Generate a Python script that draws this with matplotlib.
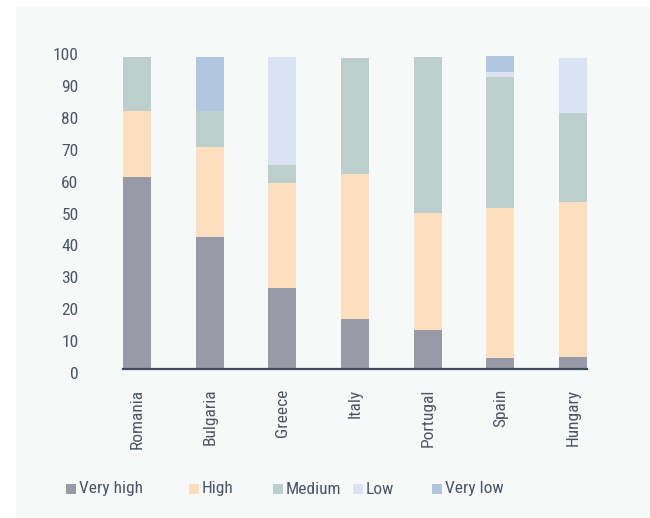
import matplotlib
matplotlib.use("Agg")
import matplotlib.pyplot as plt
import matplotlib.transforms as mtransforms
from matplotlib import font_manager
from matplotlib.patches import Rectangle
import numpy as np

countries = ["Romania", "Bulgaria", "Greece", "Italy", "Portugal", "Spain", "Hungary"]
very_high = [60.2, 41.4, 25.4, 15.7, 12.2, 3.4, 3.8]
high = [20.7, 28.2, 32.9, 45.4, 36.7, 47.1, 48.6]
medium = [16.9, 11.3, 5.6, 36.4, 48.9, 41.0, 27.9]
low = [0.0, 0.0, 33.9, 0.0, 0.0, 1.6, 17.2]
very_low = [0.0, 16.9, 0.0, 0.0, 0.0, 5.0, 0.0]
series_names = ["Very high", "High", "Medium", "Low", "Very low"]
yticks = [0, 10, 20, 30, 40, 50, 60, 70, 80, 90, 100]

colors = ["#989ba7", "#fddfc0", "#bccfcc", "#d9e3f4", "#b0c6de"]
text_color = "#4a5567"
axis_color = "#3f4d5f"
panel_color = "#f7f9f9"

# pick a narrow font if one is installed
available = {(f.name, f.stretch) for f in font_manager.fontManager.ttflist}
names = {n for n, _ in available}
font_kw = {}
chosen = None
for cand in ["Roboto Condensed", "Liberation Sans Narrow", "Open Sans Condensed",
             "DejaVu Sans Condensed", "Noto Sans Condensed"]:
    if cand in names:
        chosen = cand
        break
if chosen is None:
    cond = [n for n, s in available if str(s) in ("condensed", "semi-condensed") and n in
            ("Roboto", "Noto Sans", "Open Sans", "DejaVu Sans", "Liberation Sans")]
    if cond:
        chosen = cond[0]
        font_kw["stretch"] = "condensed"
if chosen is None:
    chosen = "Roboto"
    size_scale = 0.93
else:
    size_scale = 1.0
plt.rcParams["font.family"] = [chosen, "DejaVu Sans"]
if "stretch" in font_kw:
    plt.rcParams["font.stretch"] = "condensed"
fs = 12.5 * size_scale

W, H, DPI = 650, 518, 100
fig = plt.figure(figsize=(W / DPI, H / DPI), dpi=DPI, facecolor="white")
fig.patches.append(Rectangle((16 / W, -0.05), 1.1, (H - 7) / H + 0.05,
                             transform=fig.transFigure, facecolor=panel_color,
                             edgecolor="none", zorder=-10))

left, right = 123 / W, 587 / W
bottom, top = (H - 369) / H, (H - 50) / H
ax = fig.add_axes([left, bottom, right - left, top - bottom])
ax.set_facecolor("none")

x = np.arange(len(countries))
width = 0.385
series = [very_high, high, medium, low, very_low]
base = np.zeros(len(countries))
for vals, c in zip(series, colors):
    ax.bar(x, vals, width=width, bottom=base, color=c, edgecolor="none", zorder=2)
    base = base + np.array(vals)

ax.set_xlim(-width / 2, len(countries) - 1 + width / 2)
ax.set_ylim(0, 100)

for s in ["top", "right", "left"]:
    ax.spines[s].set_visible(False)
ax.spines["bottom"].set_color(axis_color)
ax.spines["bottom"].set_linewidth(1.6)
ax.spines["bottom"].set_zorder(3)

ax.set_yticks(yticks)
ax.set_yticklabels([str(v) for v in yticks])
ax.tick_params(axis="y", length=0, pad=32, labelsize=fs, labelcolor=text_color)
offset = mtransforms.ScaledTranslation(0, -4 / DPI, fig.dpi_scale_trans)
for lab in ax.get_yticklabels():
    lab.set_transform(lab.get_transform() + offset)

ax.set_xticks(x)
ax.set_xticklabels(countries, rotation=90, va="top", ha="center")
ax.tick_params(axis="x", length=0, pad=14, labelsize=fs, labelcolor=text_color)

# legend
leg_sq_x = [66, 189, 273, 353, 432]
leg_y = 489
sq = 10
for name, c, lx in zip(series_names, colors, leg_sq_x):
    fig.patches.append(Rectangle((lx / W, (H - leg_y - sq / 2) / H), sq / W, sq / H,
                                 transform=fig.transFigure, facecolor=c,
                                 edgecolor="none"))
    fig.text((lx + sq + 3) / W, (H - leg_y) / H, name, fontsize=fs,
             color=text_color, va="center", ha="left")

fig.savefig("out.png", dpi=DPI, facecolor="white")
